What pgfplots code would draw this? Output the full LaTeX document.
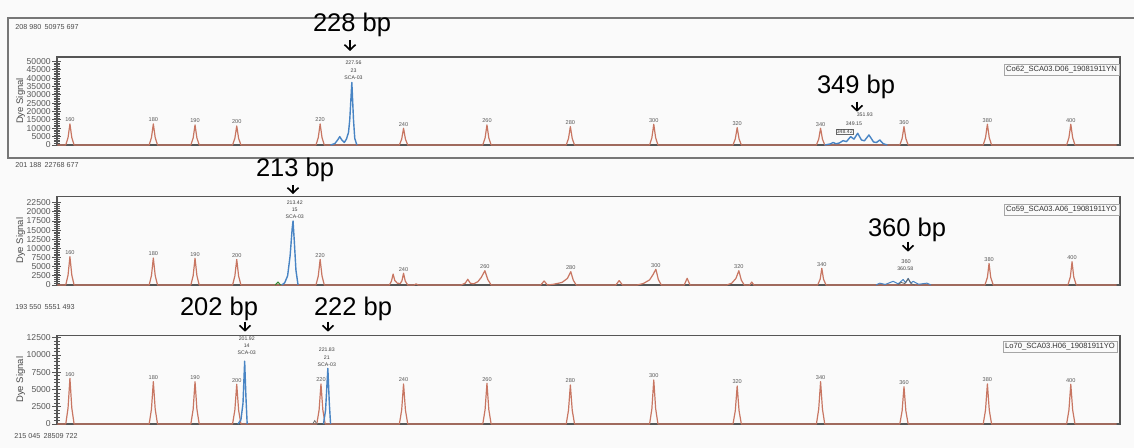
\documentclass[border=0pt]{standalone}
\usepackage{fontspec}
\setmainfont{Liberation Sans}
\usepackage{pgfplots}
\pgfplotsset{compat=1.18}
\usetikzlibrary{arrows.meta}
\definecolor{redtrace}{RGB}{200,118,98}
\definecolor{bluetrace}{RGB}{72,132,196}
\definecolor{framec}{RGB}{85,85,85}
\newcommand{\tinyf}{\fontsize{2.8}{3.4}\selectfont}
\newcommand{\bluef}{\fontsize{2.6}{3.6}\selectfont}
\pgfplotsset{
  egram/.style={
    scale only axis, anchor=south west,
    width=531.5pt,
    xmin=156.9, xmax=411.8, ymin=0,
    xtick=\empty,
    axis line style={framec, line width=0.7pt},
    tick align=center, major tick length=4.5pt, minor tick length=3pt,
    minor y tick num=4,
    every tick/.style={framec, line width=0.4pt},
    ytick pos=left,
    scaled y ticks=false,
    /pgf/number format/assume math mode=true,
    yticklabel style={font=\fontsize{4.3}{5}\selectfont, text=black!65, xshift=2.6pt,
      /pgf/number format/fixed, /pgf/number format/1000 sep={}},
    clip=false,
  },
  redt/.style={redtrace, line width=0.6pt, line join=round},
  bluet/.style={bluetrace, line width=0.7pt, line join=round},
  peaklab/.style={only marks, mark=none, nodes near coords, point meta=explicit symbolic,
    every node near coord/.style={font=\tinyf, text=black!65, anchor=south, yshift=0.3pt, inner sep=0.5pt}},
}
\begin{document}
\begin{tikzpicture}
\useasboundingbox (0,0) rectangle (567pt,224pt);
\fill[black!2] (0,0) rectangle (567pt,224pt);
% outer frame of first panel
\draw[framec!80, line width=0.8pt] (567pt,215pt) -- (4pt,215pt) -- (4pt,145pt) -- (567pt,145pt);

%================ Panel 1 ================
\begin{axis}[egram, at={(28.5pt,151.5pt)}, height=44pt, ymax=52600,
  ytick={0,5000,10000,15000,20000,25000,30000,35000,40000,45000,50000}]
\addplot[redt] coordinates {
(157,0) (159,0) (159.55,4410) (160,12600) (160.45,4410) (161,0)
(179,0) (179.55,4410) (180,12600) (180.45,4410) (181,0)
(189,0) (189.55,4200) (190,12000) (190.45,4200) (191,0)
(199,0) (199.55,3990) (200,11400) (200.45,3990) (201,0)
(219,0) (219.55,4410) (220,12600) (220.45,4410) (221,0)
(239,0) (239.55,3500) (240,10000) (240.45,3500) (241,0)
(259,0) (259.55,4200) (260,12000) (260.45,4200) (261,0)
(279,0) (279.55,3850) (280,11000) (280.45,3850) (281,0)
(299,0) (299.55,4340) (300,12400) (300.45,4340) (301,0)
(319,0) (319.55,3640) (320,10400) (320.45,3640) (321,0)
(339,0) (339.55,3500) (340,10000) (340.45,3500) (341,0)
(359,0) (359.55,3850) (360,11000) (360.45,3850) (361,0)
(379,0) (379.55,4340) (380,12400) (380.45,4340) (381,0)
(399,0) (399.55,4340) (400,12400) (400.45,4340) (401,0) (411,0)};
\addplot[bluet] coordinates {
(222.5,0) (223.5,800) (224.2,3000) (224.7,5000) (225.2,3000) (225.8,1500) (226.3,3500)
(226.8,7500) (227.1,15000) (227.6,37400) (228.0,15000) (228.3,4000) (228.8,0)};
\addplot[bluet] coordinates {
(341,0) (342.3,600) (343,1500) (343.7,700) (344.5,1200) (345.4,2600) (346.2,2000)
(347.2,5000) (348.0,3500) (348.9,7000) (349.8,3000) (350.5,2500) (351.6,6000)
(352.7,1800) (353.4,1500) (354.2,3000) (355,800) (356,0)};
\addplot[peaklab] coordinates {
(160,12600)[160] (180,12600)[180] (190,12000)[190] (200,11400)[200] (220,12600)[220]
(240,10000)[240] (260,12000)[260] (280,11000)[280] (300,12400)[300] (320,10400)[320]
(340,10000)[340] (360,11000)[360] (380,12400)[380] (400,12400)[400]};
\node[font=\bluef, align=center, anchor=south, text=black!75, inner sep=0pt] at (axis cs:228.0,39000) {227.56\\23\\SCA-03};
\node[font=\bluef, text=black!75, inner sep=0.4pt] at (axis cs:350.6,18000) {351.93};
\node[font=\bluef, text=black!75, inner sep=0.4pt] at (axis cs:348.0,13000) {349.15};
\node[font=\bluef, text=black!75, inner sep=0.4pt, draw=black!60, line width=0.2pt] at (axis cs:345.8,8000) {348.42};
\end{axis}

%================ Panel 2 ================
\begin{axis}[egram, at={(28.5pt,81.5pt)}, height=44.15pt, ymax=24140,
  ytick={0,2500,5000,7500,10000,12500,15000,17500,20000,22500}]
\addplot[redt] coordinates {
(157,0) (159,0) (159.55,2710) (160,7740) (160.45,2710) (161,0)
(179,0) (179.55,2580) (180,7380) (180.45,2580) (181,0)
(189,0) (189.55,2555) (190,7300) (190.45,2555) (191,0)
(199,0) (199.55,2450) (200,7000) (200.45,2450) (201,0)
(219,0) (219.55,2450) (220,7000) (220.45,2450) (221,0)
(236.6,0) (237.1,1050) (237.5,3000) (237.9,1200) (238.5,500) (239.2,400)
(239.6,1100) (240,3200) (240.4,1100) (241,0) (242.5,0) (243,300) (243.5,0)
(253.8,0) (254.8,500) (255.4,1560) (256.0,500) (256.8,300) (257.8,900) (258.6,2000)
(259.5,3900) (260.2,1500) (261,0)
(272.9,0) (273.7,1100) (274.5,0) (276,200) (278,700) (279.3,1800) (280.1,3640) (280.7,1300) (281.4,0)
(290.9,0) (291.7,1200) (292.5,0) (296,0) (297.5,400) (299,1400) (299.8,2800) (300.5,4290)
(301.1,1500) (301.8,0) (307.3,0) (308,1830) (308.7,0)
(317.5,0) (318.7,500) (319.7,1800) (320.4,3900) (321,1300) (321.7,0) (323,0) (323.5,800) (324,0)
(339.3,0) (339.9,1600) (340.3,4560) (340.7,1600) (341.3,0)
(379.4,0) (380,2065) (380.4,5900) (380.8,2065) (381.4,0)
(399.3,0) (399.9,2230) (400.3,6370) (400.7,2230) (401.3,0) (411,0)};
\addplot[bluet] coordinates {
(210.8,0) (211.5,600) (212.2,2500) (212.8,8000) (213.3,15500) (213.5,17500) (213.8,12000) (214.2,4000) (214.7,0)};
\addplot[black!45!green!60!gray, line width=0.5pt] coordinates {(209.2,0) (209.9,800) (210.5,0)};
\addplot[bluet, line width=0.5pt] coordinates {
(353.3,0) (354.2,500) (355.5,150) (357.4,1000) (358.6,300) (359.8,1500) (360.4,600)
(361.0,1800) (361.6,500) (362.2,1000) (363.5,200) (365.5,500) (366.5,0)};
\addplot[black!60, line width=0.4pt] coordinates {
(358.5,0) (359.3,700) (360.2,400) (361.0,1700) (361.8,300) (362.6,0)};
\addplot[peaklab] coordinates {
(160,7740)[160] (180,7380)[180] (190,7300)[190] (200,7000)[200] (220,7000)[220]
(240,3200)[240] (259.5,3900)[260] (280.1,3640)[280] (300.5,4290)[300] (320.4,3900)[320]
(340.3,4560)[340] (380.4,5900)[380] (400.3,6370)[400]};
\node[font=\bluef, align=center, anchor=south, text=black!75, inner sep=0pt] at (axis cs:213.9,18000) {213.42\\15\\SCA-03};
\node[font=\tinyf, text=black!70, inner sep=0pt] at (axis cs:360.5,6370) {360};
\node[font=\bluef, text=black!75, inner sep=0pt] at (axis cs:360.3,4370) {360.58};
\end{axis}

%================ Panel 3 ================
\begin{axis}[egram, at={(28.5pt,12pt)}, height=44.15pt, ymax=12790,
  ytick={0,2500,5000,7500,10000,12500}]
\addplot[redt] coordinates {
(157,0) (159,0) (159.55,2317) (160,6620) (160.45,2317) (161,0)
(179,0) (179.55,2146) (180,6130) (180.45,2146) (181,0)
(189,0) (189.55,2146) (190,6130) (190.45,2146) (191,0)
(199,0) (199.55,2013) (200,5750) (200.45,2013) (201,0)
(219.2,0) (219.75,2030) (220.2,5800) (220.65,2030) (221.2,0)
(239,0) (239.55,2030) (240,5800) (240.45,2030) (241,0)
(259,0) (259.55,2065) (260,5900) (260.45,2065) (261,0)
(279,0) (279.55,1978) (280,5650) (280.45,1978) (281,0)
(299,0) (299.55,2230) (300,6370) (300.45,2230) (301,0)
(319,0) (319.55,1925) (320,5500) (320.45,1925) (321,0)
(339,0) (339.55,2146) (340,6130) (340.45,2146) (341,0)
(359,0) (359.55,1890) (360,5400) (360.45,1890) (361,0)
(379,0) (379.55,2030) (380,5800) (380.45,2030) (381,0)
(399,0) (399.55,2013) (400,5750) (400.45,2013) (401,0) (411,0)};
\addplot[bluet] coordinates {
(200.3,0) (201.0,600) (201.5,3000) (201.9,9100) (202.2,4000) (202.5,0)};
\addplot[bluet] coordinates {
(220.8,0) (221.3,2000) (221.85,8060) (222.2,3000) (222.5,0)};
\addplot[black!55, line width=0.4pt] coordinates {(218.2,0) (218.7,500) (219.2,0)};
\addplot[peaklab] coordinates {
(160,6620)[160] (180,6130)[180] (190,6130)[190] (200,5750)[200] (220.2,5800)[220]
(240,5800)[240] (260,5900)[260] (280,5650)[280] (300,6370)[300] (320,5500)[320]
(340,6130)[340] (360,5400)[360] (380,5800)[380] (400,5750)[400]};
\node[font=\bluef, align=center, anchor=south, text=black!75, inner sep=0pt] at (axis cs:202.4,10000) {201.92\\14\\SCA-03};
\node[font=\bluef, align=center, anchor=south, text=black!75, inner sep=0pt] at (axis cs:221.6,8300) {221.83\\21\\SCA-03};
\end{axis}

% y labels
\node[rotate=90, font=\fontsize{4.75}{5}\selectfont, text=black!70] at (10.35pt,173.5pt) {Dye Signal};
\node[rotate=90, font=\fontsize{4.75}{5}\selectfont, text=black!70] at (10.35pt,103.6pt) {Dye Signal};
\node[rotate=90, font=\fontsize{4.75}{5}\selectfont, text=black!70] at (10.35pt,34.1pt) {Dye Signal};

% sample names
\node[font=\fontsize{3.8}{4}\selectfont, draw=black!35, line width=0.2pt, inner sep=1pt, text=black!80] at (530.75pt,189pt) {Co62\_SCA03.D06\_19081911YN};
\node[font=\fontsize{3.8}{4}\selectfont, draw=black!35, line width=0.2pt, inner sep=1pt, text=black!80] at (530.75pt,119pt) {Co59\_SCA03.A06\_19081911YO};
\node[font=\fontsize{3.8}{4}\selectfont, draw=black!35, line width=0.2pt, inner sep=1pt, text=black!80] at (530pt,50.5pt) {Lo70\_SCA03.H06\_19081911YO};

% run info
\node[font=\fontsize{3.6}{4}\selectfont, anchor=west, text=black!70, inner sep=0pt] at (7.5pt,210.5pt) {208 980\, 50975 697};
\node[font=\fontsize{3.6}{4}\selectfont, anchor=west, text=black!70, inner sep=0pt] at (7.5pt,141.5pt) {201 188\, 22768 677};
\node[font=\fontsize{3.6}{4}\selectfont, anchor=west, text=black!70, inner sep=0pt] at (7.5pt,70.7pt) {193 550\, 5551 493};
\node[font=\fontsize{3.6}{4}\selectfont, anchor=west, text=black!70, inner sep=0pt] at (7pt,6.2pt) {215 045\, 28509 722};

% annotations
\tikzset{ann/.style={font=\fontsize{12.75}{14}\selectfont, anchor=base, inner sep=0pt},
  annarr/.style={line width=0.8pt, -{Straight Barb[length=2.6pt,width=5.5pt]}}}
\node[ann] at (176pt,208pt) {228 bp};
\draw[annarr] (175pt,204pt) -- (175pt,198.5pt);
\node[ann] at (428pt,177.35pt) {349 bp};
\draw[annarr] (428.5pt,173.15pt) -- (428.5pt,168.15pt);
\node[ann] at (147.5pt,135.5pt) {213 bp};
\draw[annarr] (146.5pt,131.5pt) -- (146.5pt,127pt);
\node[ann] at (453.5pt,105.65pt) {360 bp};
\draw[annarr] (454pt,103.15pt) -- (454pt,98.15pt);
\node[ann] at (109.5pt,66pt) {202 bp};
\draw[annarr] (122.5pt,63.15pt) -- (122.5pt,58.15pt);
\node[ann] at (176.5pt,66pt) {222 bp};
\draw[annarr] (164pt,63.15pt) -- (164pt,58.15pt);
\end{tikzpicture}
\end{document}
